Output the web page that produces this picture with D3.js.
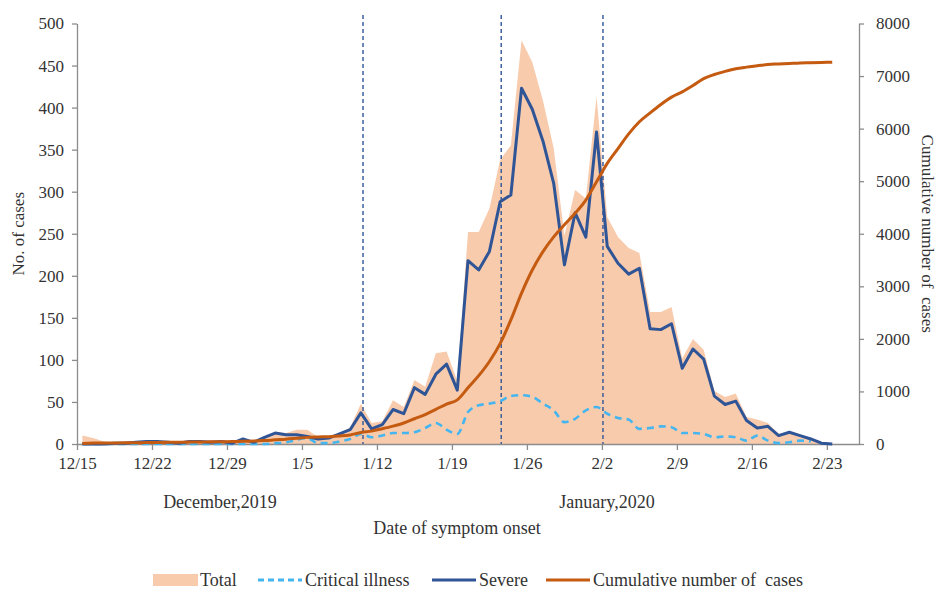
<!DOCTYPE html>
<html>
<head>
	<meta charset="utf-8">
	<title>Symptom onset</title>
	<script src="https://d3js.org/d3.v7.min.js"></script>
	<style>
		body { margin: 0; background: #fff; }
		text { font-family: 'Liberation Serif', 'Times New Roman', serif; fill: #333; }
		.axis path, .axis line { stroke: #8c8c8c; stroke-width: 1.3; }
		.axis text { font-size: 17px; fill: #333; font-family: 'Liberation Serif', serif; }
	</style>
</head>
<body>
<script>
// tick labels along the date axis (one every 7 days, from 12/15)
var tickLabels = ["12/15", "12/22", "12/29", "1/5", "1/12", "1/19", "1/26", "2/2", "2/9", "2/16", "2/23"];

// daily counts, 12/15 .. 2/23
var total = [10, 7, 3, 1, 1, 2, 3, 3, 2, 1, 3, 3, 2, 3, 2, 7, 3, 9, 14, 13,
	17, 17, 8, 6, 12, 20, 48, 25, 27, 52, 44, 76, 68, 108, 110, 75, 252, 252, 280, 338,
	355, 480, 454, 408, 352, 248, 302, 292, 413, 270, 246, 233, 227, 157, 157, 163, 102, 125, 112, 63,
	56, 60, 32, 29, 25, 12, 15, 11, 6, 2, 1];

var severe = [0, 0, 0, 1, 1, 2, 3, 3, 2, 1, 3, 3, 2, 3, 1, 6, 2, 8, 13, 11,
	11, 9, 6, 7, 12, 17, 37, 18, 23, 41, 36, 67, 59, 83, 95, 64, 218, 207, 229, 288,
	296, 423, 398, 360, 310, 213, 275, 246, 371, 235, 215, 202, 209, 137, 136, 143, 90, 113, 101, 57,
	47, 51, 28, 19, 21, 10, 14, 10, 6, 1, 0];

var critical = [0, 0, 0, 0, 0, 0, 0, 0, 0, 0, 0, 0, 0, 0, 0, 0, 0, 0, 1, 2,
	5, 7, 1, 1, 3, 6, 12, 8, 10, 13, 13, 14, 19, 25, 17, 12, 38, 46, 48, 51,
	57, 58, 56, 48, 40, 26, 30, 40, 44, 36, 31, 29, 18, 19, 21, 20, 13, 13, 12, 8,
	9, 8, 4, 10, 4, 1, 2, 4, 3];

var cumulative = [10, 17, 20, 21, 22, 24, 27, 30, 32, 33, 36, 39, 41, 44, 46, 53, 56, 65, 79, 92,
	109, 126, 134, 140, 152, 172, 220, 245, 290, 340, 400, 480, 560, 660, 760, 840, 1070, 1300, 1570, 1910,
	2360, 2870, 3310, 3660, 3940, 4170, 4390, 4640, 4990, 5340, 5620, 5900, 6130, 6300, 6460, 6600, 6700, 6820, 6950, 7030,
	7090, 7140, 7170, 7195, 7220, 7230, 7240, 7250, 7255, 7260, 7265];

// dashed reference lines, in days after 12/15
var markerDays = [26.7, 39.6, 49.1];

var W = 936, H = 590;
var plotL = 77, plotR = 859, plotT = 23.5, plotB = 444;

var svg = d3.select("body").append("svg")
	.attr("width", W)
	.attr("height", H);

// category axis: 73 slots, each point sits in the middle of its slot
var x = d3.scaleLinear().domain([0, 73]).range([plotL, plotR]);
var yL = d3.scaleLinear().domain([0, 500]).range([plotB, plotT]);
var yR = d3.scaleLinear().domain([0, 8000]).range([plotB, plotT]);
var px = function(d, i) { return x(i + 0.5); };

// total (area)
svg.append("path")
	.datum(total)
	.attr("fill", "#f8cbad")
	.attr("d", d3.area().x(px).y0(plotB).y1(function(d) { return yL(d); }));

// marker lines
svg.append("g").selectAll("line")
	.data(markerDays)
	.enter().append("line")
	.attr("x1", function(d) { return x(d); })
	.attr("x2", function(d) { return x(d); })
	.attr("y1", 15)
	.attr("y2", plotB)
	.attr("stroke", "#2f5597")
	.attr("stroke-width", 1.4)
	.attr("stroke-dasharray", "4,3");

// axes
var xAxis = d3.axisBottom(x)
	.tickValues(tickLabels.map(function(d, i) { return i * 7; }))
	.tickFormat(function(d, i) { return tickLabels[i]; })
	.tickSize(6).tickSizeOuter(0).tickPadding(7);

svg.append("g").attr("class", "axis")
	.attr("transform", "translate(0," + plotB + ")")
	.call(xAxis);

svg.append("g").attr("class", "axis")
	.attr("transform", "translate(" + plotL + ",0)")
	.call(d3.axisLeft(yL).tickValues(d3.range(0, 501, 50)).tickSize(5).tickSizeOuter(0).tickPadding(8));

svg.append("g").attr("class", "axis")
	.attr("transform", "translate(" + plotR + ",0)")
	.call(d3.axisRight(yR).tickValues(d3.range(0, 8001, 1000)).tickFormat(d3.format("d"))
		.tickSize(5).tickSizeOuter(0).tickPadding(12));

// critical illness
svg.append("path")
	.datum(critical)
	.attr("fill", "none")
	.attr("stroke", "#45b5ef")
	.attr("stroke-width", 2.6)
	.attr("stroke-dasharray", "7,5")
	.attr("d", d3.line().x(px).y(function(d) { return yL(d); }).curve(d3.curveMonotoneX));

// severe
svg.append("path")
	.datum(severe)
	.attr("fill", "none")
	.attr("stroke", "#2f5597")
	.attr("stroke-width", 3)
	.attr("stroke-linejoin", "round")
	.attr("d", d3.line().x(px).y(function(d) { return yL(d); }));

// cumulative
svg.append("path")
	.datum(cumulative)
	.attr("fill", "none")
	.attr("stroke", "#c55a11")
	.attr("stroke-width", 3)
	.attr("d", d3.line().x(px).y(function(d) { return yR(d); }).curve(d3.curveMonotoneX));

// axis titles
svg.append("text")
	.attr("transform", "translate(24," + ((plotT + plotB) / 2) + ") rotate(-90)")
	.attr("text-anchor", "middle")
	.style("font-size", "17px")
	.text("No. of cases");

svg.append("text")
	.attr("transform", "translate(922," + ((plotT + plotB) / 2) + ") rotate(90)")
	.attr("text-anchor", "middle")
	.style("font-size", "17px")
	.style("white-space", "pre")
	.text("Cumulative number of  cases");

svg.append("text").attr("x", 220).attr("y", 508)
	.attr("text-anchor", "middle").style("font-size", "18px")
	.text("December,2019");
svg.append("text").attr("x", 607).attr("y", 508)
	.attr("text-anchor", "middle").style("font-size", "18px")
	.text("January,2020");
svg.append("text").attr("x", 457).attr("y", 534)
	.attr("text-anchor", "middle").style("font-size", "18px")
	.text("Date of symptom onset");

// legend
var legend = [
	{name: "Total", type: "rect", x: 153, color: "#f8cbad"},
	{name: "Critical illness", type: "dash", x: 258, color: "#45b5ef"},
	{name: "Severe", type: "line", x: 432, color: "#2f5597"},
	{name: "Cumulative number of  cases", type: "line", x: 546, color: "#c55a11"}
];
var lg = svg.append("g").attr("transform", "translate(0,580)");
legend.forEach(function(d) {
	if (d.type === "rect") {
		lg.append("rect").attr("x", d.x).attr("y", -6).attr("width", 45).attr("height", 12).attr("fill", d.color);
	} else {
		lg.append("line").attr("x1", d.x).attr("x2", d.x + 44).attr("y1", 0).attr("y2", 0)
			.attr("stroke", d.color).attr("stroke-width", 3)
			.attr("stroke-dasharray", d.type === "dash" ? "6,4" : null);
	}
	lg.append("text").attr("x", d.x + 47).attr("y", 6).style("font-size", "18px")
		.style("white-space", "pre").text(d.name);
});
</script>
</body>
</html>
